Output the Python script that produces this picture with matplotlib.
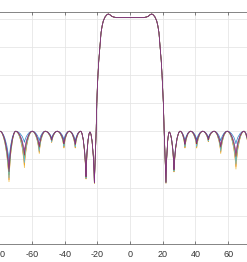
import matplotlib
matplotlib.use('Agg')
import matplotlib.pyplot as plt
from matplotlib.path import Path
from matplotlib.patches import PathPatch

# ---------------- data ----------------
colors = ['#0072BD', '#D95319', '#EDB120', '#77AC30', '#4DBEEE', '#A2142F', '#7E2F8E']

x_ticks = [-80, -60, -40, -20, 0, 20, 40, 60, 80]
x_tick_labels = ['-80', '-60', '-40', '-20', '0', '20', '40', '60', '']
y_ticks = [-80, -70, -60, -50, -40, -30, -20, -10, 0]

# side-lobe peaks (x, dB)
left_peak_x = [-79.5, -69.9, -59.8, -51.8, -44.5, -37.1, -30.2, -24.5]
left_peak_db = [-40.0, -40.0, -40.0, -40.0, -40.0, -40.0, -40.0, -40.3]
right_peak_x = [24.0, 30.6, 37.1, 44.5, 51.4, 59.5, 69.7, 79.5]
right_peak_db = [-40.3, -40.0, -40.0, -40.0, -40.0, -40.0, -40.0, -40.0]

# side-lobe nulls (x)
left_null_x = [-74.0, -64.6, -55.5, -47.9, -40.4, -33.5, -26.9, -21.8]
right_null_x = [22.0, 26.9, 33.6, 40.8, 47.9, 55.5, 64.8, 74.0]

# null depths (dB), one row per series, in plotting order
left_null_db = [
    [-50.8, -44.0, -43.4, -42.5, -43.0, -43.5, -55.5, -58.0],   # blue
    [-57.3, -52.1, -47.5, -43.9, -45.7, -45.8, -56.9, -58.5],   # orange
    [-58.0, -53.0, -48.0, -44.0, -46.0, -46.0, -57.0, -58.5],   # yellow
    [-55.5, -49.9, -46.4, -43.5, -45.0, -45.1, -56.5, -58.3],   # green
    [-56.6, -51.2, -47.1, -43.7, -45.4, -45.5, -56.7, -58.4],   # cyan
    [-54.4, -48.5, -45.7, -43.2, -44.5, -44.7, -56.2, -58.2],   # dark red
    [-53.3, -47.2, -45.0, -43.0, -44.0, -44.4, -56.0, -58.2],   # purple
]
right_null_db = [
    [-58.0, -53.0, -43.5, -43.0, -42.3, -43.5, -44.5, -50.8],
    [-58.5, -54.4, -45.8, -45.7, -43.7, -47.5, -52.6, -57.3],
    [-58.5, -54.5, -46.0, -46.0, -43.8, -48.0, -53.5, -58.0],
    [-58.3, -54.0, -45.1, -45.0, -43.3, -46.4, -50.4, -55.5],
    [-58.4, -54.2, -45.5, -45.4, -43.5, -47.1, -51.7, -56.6],
    [-58.2, -53.7, -44.7, -44.5, -43.0, -45.7, -49.0, -54.4],
    [-58.2, -53.5, -44.4, -44.0, -42.8, -45.1, -47.7, -53.3],
]

# pass band (shared by all series)
pb_x = [-20.7, -20.3, -20.0, -19.6, -19.1, -18.4, -17.7, -17.0, -16.3, -15.2,
        -14.2, -13.3, -12.4, -11.2, -10.2, -8.1, 0.0, 8.1, 10.2, 11.2, 12.4,
        13.3, 14.2, 15.2, 16.3, 17.0, 17.7, 18.4, 19.1, 19.6, 20.0, 20.4, 20.9]
pb_db = [-40.0, -30.0, -25.0, -20.0, -15.0, -10.0, -5.0, -2.5, -0.8, 0.6,
         1.3, 1.6, 1.4, 0.8, 0.55, 0.3, 0.3, 0.3, 0.55, 0.8, 1.4,
         1.6, 1.3, 0.6, -0.8, -2.5, -5.0, -10.0, -15.0, -20.0, -25.0, -30.0, -40.0]


def lobe(verts, codes, a, b, a_is_peak):
    """cubic segment between a peak and a null (rounded top, V-shaped null)."""
    (xa, ya), (xb, yb) = a, b
    if a_is_peak:
        c1 = (xa + 0.45 * (xb - xa), ya)
        c2 = (xb + 0.12 * (xa - xb), ya + 0.5 * (yb - ya))
    else:
        c1 = (xa + 0.12 * (xb - xa), ya + 0.5 * (yb - ya))
        c2 = (xb + 0.45 * (xa - xb), yb)
    verts += [c1, c2, b]
    codes += [Path.CURVE4] * 3


def series_path(k):
    verts, codes = [], []
    knots = []
    for px, py, nx, ny in zip(left_peak_x, left_peak_db, left_null_x, left_null_db[k]):
        knots.append(((px, py), True))
        knots.append(((nx, ny), False))
    verts.append(knots[0][0])
    codes.append(Path.MOVETO)
    for (a, ap), (b, bp) in zip(knots[:-1], knots[1:]):
        lobe(verts, codes, a, b, ap)
    for x, y in zip(pb_x, pb_db):
        verts.append((x, y))
        codes.append(Path.LINETO)
    verts.append((right_null_x[0], right_null_db[k][0]))
    codes.append(Path.LINETO)
    knots = []
    for nx, ny, px, py in zip(right_null_x, right_null_db[k], right_peak_x, right_peak_db):
        knots.append(((nx, ny), False))
        knots.append(((px, py), True))
    for (a, ap), (b, bp) in zip(knots[:-1], knots[1:]):
        lobe(verts, codes, a, b, ap)
    return Path(verts, codes)


# ---------------- figure ----------------
W, H = 247, 262
fig = plt.figure(figsize=(W / 100, H / 100), dpi=100)
ax = fig.add_axes([-33.5 / W, (H - 244) / H, 327 / W, (244 - 12.3) / H])
ax.set_xlim(-100, 100)
ax.set_ylim(-80, 2.2)

for k, c in enumerate(colors):
    ax.add_patch(PathPatch(series_path(k), fill=False, edgecolor=c, lw=0.5,
                           alpha=0.85, transform=ax.transData, zorder=3))

ax.set_xticks(x_ticks)
ax.set_xticklabels(x_tick_labels)
ax.set_yticks(y_ticks)
ax.set_yticklabels([])
ax.grid(True, color='#E4E4E4', lw=0.55)
ax.set_axisbelow(True)
ax.tick_params(axis='x', direction='in', length=2.3, width=0.45, color='#404040',
               top=True, labelsize=6.5, labelcolor='#333333', pad=4.5)
ax.tick_params(axis='y', direction='in', length=2.3, width=0.45, color='#404040',
               right=True)
for lab in ax.get_xticklabels():
    lab.set_family(['Liberation Sans', 'DejaVu Sans'])
for s in ax.spines.values():
    s.set_color('#404040')
    s.set_linewidth(0.45)

fig.savefig('out.png', dpi=100)
